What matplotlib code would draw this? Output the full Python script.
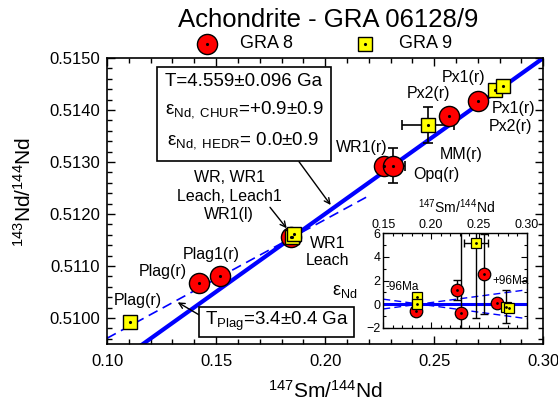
import matplotlib
matplotlib.use('Agg')
import matplotlib.pyplot as plt
from matplotlib.patches import Rectangle
from matplotlib.lines import Line2D
from matplotlib.ticker import MultipleLocator, FormatStrFormatter
import numpy as np

plt.rcParams['font.family'] = ['Liberation Sans', 'DejaVu Sans']
plt.rcParams['mathtext.fontset'] = 'custom'
plt.rcParams['mathtext.rm'] = 'Liberation Sans'
plt.rcParams['mathtext.it'] = 'Liberation Sans:italic'
plt.rcParams['mathtext.bf'] = 'Liberation Sans:bold'

# ---------------- data ----------------
# GRA 8 (red circles)
gra8_smnd = [0.1420, 0.1516, 0.1842, 0.2269, 0.2312, 0.2567, 0.2700]
gra8_ndnd = [0.51067, 0.51081, 0.51155, 0.51293, 0.51293, 0.51388, 0.51417]
gra8_smnd_err = [0, 0, 0, 0, 0.0052, 0.003, 0]
gra8_ndnd_err = [0, 0, 0, 0, 0.00034, 0, 0]
# GRA 9 (yellow squares)
gra9_smnd = [0.1107, 0.1848, 0.1858, 0.2472, 0.2780, 0.2814]
gra9_ndnd = [0.50992, 0.51155, 0.51162, 0.51371, 0.51439, 0.51447]
gra9_smnd_err = [0, 0, 0, 0.0118, 0, 0]
gra9_ndnd_err = [0, 0, 0, 0.00034, 0, 0]

# isochrons
iso_slope = 0.02997
iso_ref_x, iso_ref_y = 0.30, 0.5150
plag_slope = 0.02283
plag_ref_x, plag_ref_y = 0.10, 0.50961
plag_x_range = [0.10, 0.220]

# inset: epsilon Nd deviations
ins8_smnd = [0.1842, 0.2267, 0.2313, 0.2557, 0.2693]
ins8_eps = [-0.59, 1.19, -0.73, 2.52, 0.12]
ins8_eps_err = [0, 0.85, 9.0, 3.4, 0]
ins8_smnd_err = [0, 0, 0, 0.003, 0]
ins9_smnd = [0.1856, 0.1856, 0.2470, 0.2780, 0.2819]
ins9_eps = [0.57, -0.02, 5.21, -0.22, -0.36]
ins9_eps_err = [0, 0, 6.4, 1.38, 0]
ins9_smnd_err = [0, 0, 0.0127, 0, 0]
dev_pivot = 0.188
dev_slopes = [10.8, -11.0]   # +96Ma, -96Ma

# ---------------- figure ----------------
W, H = 558, 404
fig = plt.figure(figsize=(W / 100, H / 100), dpi=100)


def F(px, py):
    return (px / W, 1 - py / H)


RED = '#FF0000'
YEL = '#FFFF00'
BLUE = '#0000FF'

ax = fig.add_axes([107 / W, 1 - 344 / H, (543.3 - 107) / W, (344 - 58) / H])
ax.set_xlim(0.10, 0.30)
ax.set_ylim(0.5095, 0.5150)

# isochron lines
xs = np.array([0.10, 0.30])
ax.plot(xs, iso_ref_y + iso_slope * (xs - iso_ref_x), color=BLUE, lw=3.0, zorder=2)
xp = np.array(plag_x_range)
ax.plot(xp, plag_ref_y + plag_slope * (xp - plag_ref_x), color=BLUE, lw=1.2,
        ls=(0, (6, 3.5)), zorder=2)

# error bars
ax.errorbar(gra8_smnd, gra8_ndnd, xerr=gra8_smnd_err, yerr=gra8_ndnd_err, fmt='none',
            ecolor='black', elinewidth=1.2, capsize=3.5, capthick=1.2, zorder=3)
ax.errorbar(gra9_smnd, gra9_ndnd, xerr=gra9_smnd_err, yerr=gra9_ndnd_err, fmt='none',
            ecolor='black', elinewidth=1.2, capsize=3.5, capthick=1.2, zorder=3)

ax.plot(gra8_smnd, gra8_ndnd, 'o', ms=14.5, mfc=RED, mec='black', mew=1.0, zorder=4, ls='none')
ax.plot(gra8_smnd, gra8_ndnd, '.', ms=2.5, color='black', zorder=5, ls='none')
ax.plot(gra9_smnd, gra9_ndnd, 's', ms=10.5, mfc=YEL, mec='black', mew=1.0, zorder=4, ls='none')
ax.plot(gra9_smnd, gra9_ndnd, '.', ms=2.5, color='black', zorder=5, ls='none')

# ticks
ax.xaxis.set_major_locator(MultipleLocator(0.05))
ax.xaxis.set_minor_locator(MultipleLocator(0.01))
ax.yaxis.set_major_locator(MultipleLocator(0.001))
ax.yaxis.set_minor_locator(MultipleLocator(0.0002))
ax.xaxis.set_major_formatter(FormatStrFormatter('%.2f'))
ax.yaxis.set_major_formatter(FormatStrFormatter('%.4f'))
ax.tick_params(which='both', direction='in', top=True, right=True, labelsize=12, width=1.0)
ax.tick_params(which='major', length=6)
ax.tick_params(which='minor', length=3.5)
ax.tick_params(axis='x', pad=7)
ax.tick_params(axis='y', pad=5)
for s in ax.spines.values():
    s.set_linewidth(1.2)

fig.text(*F(325, 391), r'$^{147}$Sm/$^{144}$Nd', ha='center', va='center', fontsize=15)
fig.text(*F(24, 192), r'$^{143}$Nd/$^{144}$Nd', ha='center', va='center', fontsize=15,
         rotation=90)

# title
fig.text(*F(328, 20), 'Achondrite - GRA 06128/9', ha='center', va='center', fontsize=18.5)

# legend
fig.add_artist(Line2D([206.7 / W], [1 - 43.5 / H], marker='o', ms=14.5, mfc=RED, mec='black',
                      mew=1.0, ls='none', transform=fig.transFigure))
fig.add_artist(Line2D([206.7 / W], [1 - 43.5 / H], marker='.', ms=2.5, color='black',
                      ls='none', transform=fig.transFigure))
fig.add_artist(Line2D([365 / W], [1 - 43.5 / H], marker='s', ms=10.5, mfc=YEL, mec='black',
                      mew=1.0, ls='none', transform=fig.transFigure))
fig.add_artist(Line2D([365 / W], [1 - 43.5 / H], marker='.', ms=2.5, color='black',
                      ls='none', transform=fig.transFigure))
fig.text(*F(240, 44), 'GRA 8', ha='left', va='center', fontsize=13)
fig.text(*F(399, 44), 'GRA 9', ha='left', va='center', fontsize=13)

# info box 1
x0, y0 = F(156.7, 160.7)
x1, y1 = F(330.7, 67.3)
fig.add_artist(Rectangle((x0, y0), x1 - x0, y1 - y0, transform=fig.transFigure,
                         fc='white', ec='black', lw=1.2, zorder=6))
fig.text(*F(244, 82), 'T=4.559±0.096 Ga', ha='center', va='center', fontsize=13.5, zorder=7)
fig.text(*F(244, 110), 'ε$_{\\rm Nd,\\ CHUR}$=+0.9±0.9', ha='center', va='center',
         fontsize=13.5, zorder=7)
fig.text(*F(243, 141), 'ε$_{\\rm Nd,\\ HEDR}$= 0.0±0.9', ha='center', va='center',
         fontsize=13.5, zorder=7)

# info box 2
x0, y0 = F(199.3, 337.3)
x1, y1 = F(354.3, 306.7)
fig.add_artist(Rectangle((x0, y0), x1 - x0, y1 - y0, transform=fig.transFigure,
                         fc='white', ec='black', lw=1.2, zorder=6))
fig.text(*F(277, 321), 'T$_{\\rm Plag}$=3.4±0.4 Ga', ha='center', va='center',
         fontsize=13.5, zorder=7)


def arrow(p_from, p_to):
    ax.annotate('', xy=(p_to[0], H - p_to[1]), xycoords='figure pixels',
                xytext=(p_from[0], H - p_from[1]), textcoords='figure pixels',
                arrowprops=dict(arrowstyle='->', color='black', lw=1.0,
                                shrinkA=0, shrinkB=0, mutation_scale=10), zorder=8)


arrow((299, 161.7), (330.7, 205))
arrow((199.3, 315), (177.7, 302.3))
arrow((270, 207.3), (286.7, 228.3))

# point labels
lbl = dict(fontsize=11.5, va='center', zorder=7)
fig.text(*F(229.3, 178), 'WR, WR1', ha='center', **lbl)
fig.text(*F(229.3, 196.7), 'Leach, Leach1', ha='center', **lbl)
fig.text(*F(229.3, 214), 'WR1(l)', ha='center', **lbl)
fig.text(*F(310, 243), 'WR1', ha='left', **lbl)
fig.text(*F(306, 260.5), 'Leach', ha='left', **lbl)
fig.text(*F(211.7, 255), 'Plag1(r)', ha='center', **lbl)
fig.text(*F(163, 271.7), 'Plag(r)', ha='center', **lbl)
fig.text(*F(138.3, 300.7), 'Plag(r)', ha='center', **lbl)
fig.text(*F(361.7, 147.3), 'WR1(r)', ha='center', **lbl)
fig.text(*F(436.7, 175), 'Opq(r)', ha='center', **lbl)
fig.text(*F(460.7, 154), 'MM(r)', ha='center', **lbl)
fig.text(*F(428.3, 93.3), 'Px2(r)', ha='center', **lbl)
fig.text(*F(463.3, 77.3), 'Px1(r)', ha='center', **lbl)
fig.text(*F(513.3, 108.3), 'Px1(r)', ha='center', **lbl)
fig.text(*F(510, 126.7), 'Px2(r)', ha='center', **lbl)

# ---------------- inset ----------------
ix0, iy0 = F(383.3, 327.7)
ix1, iy1 = F(526.7, 233.3)
ins = fig.add_axes([ix0, iy0, ix1 - ix0, iy1 - iy0])
ins.set_xlim(0.15, 0.30)
ins.set_ylim(-2, 6)
ins.set_facecolor('white')
ins.axhline(0, color=BLUE, lw=2.2, zorder=2)
xd = np.array([0.15, 0.30])
for sl in dev_slopes:
    ins.plot(xd, sl * (xd - dev_pivot), color=BLUE, lw=1.0, ls=(0, (5, 3)), zorder=2)
ins.errorbar(ins8_smnd, ins8_eps, xerr=ins8_smnd_err, yerr=ins8_eps_err, fmt='none',
             ecolor='black', elinewidth=1.0, capsize=3, capthick=1.0, zorder=3)
ins.errorbar(ins9_smnd, ins9_eps, xerr=ins9_smnd_err, yerr=ins9_eps_err, fmt='none',
             ecolor='black', elinewidth=1.0, capsize=3, capthick=1.0, zorder=3)
ins.plot(ins8_smnd, ins8_eps, 'o', ms=9, mfc=RED, mec='black', mew=0.9, ls='none', zorder=4)
ins.plot(ins8_smnd, ins8_eps, '.', ms=2, color='black', ls='none', zorder=5)
ins.plot(ins9_smnd, ins9_eps, 's', ms=6.5, mfc=YEL, mec='black', mew=0.9, ls='none', zorder=4)
ins.plot(ins9_smnd, ins9_eps, '.', ms=2, color='black', ls='none', zorder=5)
ins.xaxis.set_major_locator(MultipleLocator(0.05))
ins.xaxis.set_minor_locator(MultipleLocator(0.01))
ins.yaxis.set_major_locator(MultipleLocator(2))
ins.yaxis.set_minor_locator(MultipleLocator(1))
ins.xaxis.set_major_formatter(FormatStrFormatter('%.2f'))
ins.tick_params(which='both', direction='in', top=True, right=True, bottom=True,
                labeltop=True, labelbottom=False, labelsize=9, width=0.8, pad=2)
ins.tick_params(which='major', length=4)
ins.tick_params(which='minor', length=2.5)
for s in ins.spines.values():
    s.set_linewidth(1.0)
ins.xaxis.set_label_position('top')
fig.text(*F(457, 207), r'$^{147}$Sm/$^{144}$Nd', ha='center', va='center', fontsize=10)
fig.text(*F(345, 292), 'ε$_{\\rm Nd}$', ha='center', va='center', fontsize=13)
fig.text(*F(401.7, 287.3), '-96Ma', ha='center', va='center', fontsize=8.5, zorder=9)
fig.text(*F(510.5, 280.7), '+96Ma', ha='center', va='center', fontsize=8.5, zorder=9)

fig.savefig('out.png', dpi=100)
